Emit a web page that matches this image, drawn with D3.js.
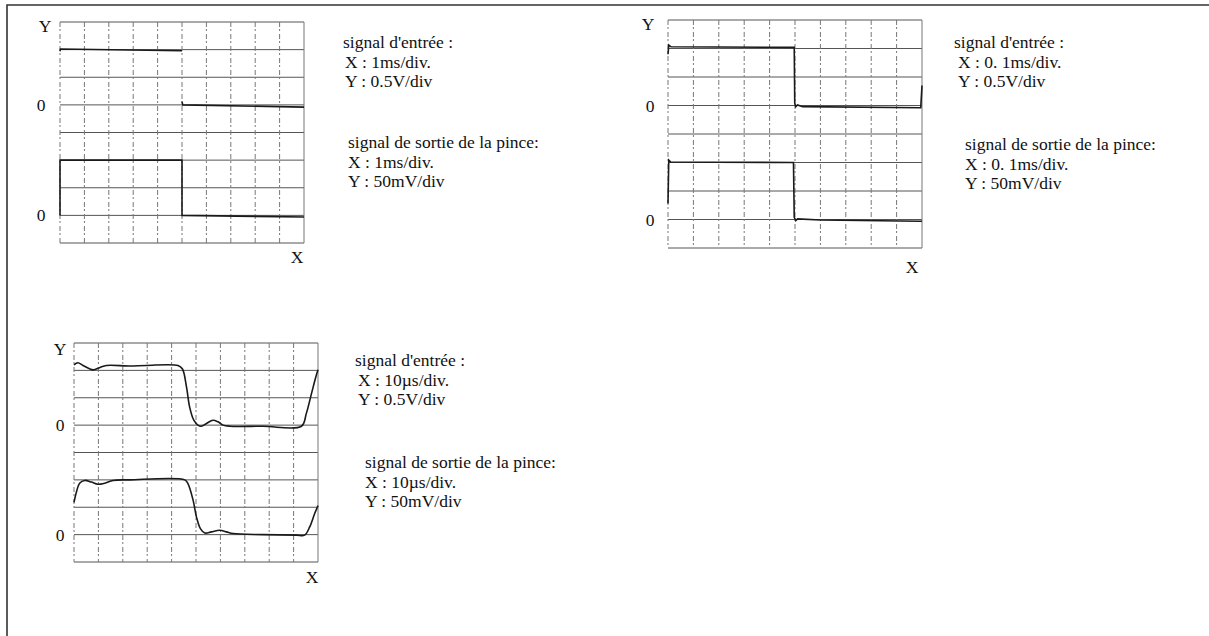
<!DOCTYPE html>
<html>
<head>
<meta charset="utf-8">
<script src="https://cdn.jsdelivr.net/npm/d3@7"></script>
<style>
  body { margin: 0; background: #fff; }
  svg { display: block; }
  text { font-family: "Liberation Serif", "Times New Roman", serif; fill: #111; }
</style>
</head>
<body>
<svg width="1209" height="636"></svg>
<script>
// each screen is 10 divisions wide and 8 high
// input channel in V (0.5 V/div), clamp output in mV (50 mV/div)
const timeDomains = [[0, 10], [0, 1], [0, 100]]; // ms, ms, µs
const voltsPerDiv = { input: 0.5, output: 50 };

// screen 1 : 1ms/div  (null = edge too fast to show on the trace)
const in1 = [[0, 0.97], [0.02, 1.01], [5, 0.98], [5, null], [5, 0.06], [5.03, 0], [10, -0.04]];
const out1 = [[0, 0], [0, 100], [5, 100], [5, 0], [10, -3]];

// screen 2 : 0.1ms/div
const in2 = [[0, 0.9], [0.003, 1.06], [0.012, 1.03], [0.497, 1.02], [0.499, 0.04],
  [0.503, -0.02], [0.51, 0.01], [0.53, -0.02], [0.995, -0.04], [1.0, 0.35]];
const out2 = [[0, 28], [0.003, 104], [0.01, 101], [0.494, 100], [0.497, 4],
  [0.503, -2], [0.51, 1], [0.6, -1], [0.995, -3], [1.0, -3]];

// screen 3 : 10µs/div
const in3 = [[0, 1.1], [1.6, 1.14], [3.7, 1.09], [7.8, 1.01], [10.5, 1.05], [13.3, 1.09],
  [22.8, 1.08], [29.7, 1.09], [42.6, 1.09], [44.4, 1.03], [46.1, 0.7], [47.4, 0.33],
  [49.1, 0.09], [50.8, 0], [52.2, -0.02], [54.3, 0.03], [57, 0.09], [59, 0.06],
  [61.1, 0], [63.8, -0.02], [77.5, -0.02], [93.2, -0.02], [95.2, 0.21], [97.3, 0.57],
  [99.1, 0.88], [100, 1.01]];
const out3 = [[0, 59], [1, 78], [2.3, 94], [4.4, 99], [7.1, 96], [9.8, 92], [12.6, 94],
  [16, 99], [22.8, 100], [45.4, 100], [46.7, 93], [48.8, 63], [50.2, 32], [51.8, 11],
  [53.6, 3], [56.3, 5], [59.7, 8], [62.5, 5], [65.2, 2], [77.5, 0], [91.1, -1],
  [94.5, -1], [96.6, 14], [98.6, 38], [100, 53]];

const inputNotes = [
  ["signal d'entrée :", "X : 1ms/div.", "Y : 0.5V/div"],
  ["signal d'entrée :", "X : 0. 1ms/div.", "Y : 0.5V/div"],
  ["signal d'entrée :", "X : 10µs/div.", "Y : 0.5V/div"]
];
const outputNotes = [
  ["signal de sortie de la pince:", "X : 1ms/div.", "Y : 50mV/div"],
  ["signal de sortie de la pince:", "X : 0. 1ms/div.", "Y : 50mV/div"],
  ["signal de sortie de la pince:", "X : 10µs/div.", "Y : 50mV/div"]
];

// layout of each screen on the page
const screens = [
  { box: [60, 22, 304, 243], yLab: [45, 32], xLab: [297, 263], zeroX: 41,
    note1: [343, 345, 48], note2: [348, 348, 148] },
  { box: [668, 20, 922, 248], yLab: [648, 30], xLab: [912, 273], zeroX: 650,
    note1: [954, 958, 48], note2: [965, 965, 150] },
  { box: [74, 343, 318, 562], yLab: [60, 355], xLab: [312, 583], zeroX: 60,
    note1: [355, 358, 366], note2: [365, 365, 468] }
];
const traces = [[in1, out1], [in2, out2], [in3, out3]];
const smooth = [false, false, true];

const svg = d3.select("svg");
svg.append("rect").attr("width", 1209).attr("height", 636).attr("fill", "#fff");

// scanned page frame
svg.append("path")
  .attr("d", "M7,636V5H1209")
  .attr("fill", "none").attr("stroke", "#333").attr("stroke-width", 1.6);

screens.forEach((s, i) => {
  const [x0, y0, x1, y1] = s.box;
  const g = svg.append("g");

  const x = d3.scaleLinear().domain(timeDomains[i]).range([x0, x1]);
  const div = d3.scaleLinear().domain([0, 8]).range([y1, y0]); // divisions from bottom

  // graticule
  g.selectAll(".h").data(d3.range(9)).join("line")
    .attr("x1", x0).attr("x2", x1)
    .attr("y1", d => div(d)).attr("y2", d => div(d))
    .attr("stroke", "#555").attr("stroke-width", 1);
  g.selectAll(".v").data(d3.range(11)).join("line")
    .attr("x1", d => x0 + (x1 - x0) * d / 10).attr("x2", d => x0 + (x1 - x0) * d / 10)
    .attr("y1", y0).attr("y2", y1)
    .attr("stroke", "#777").attr("stroke-width", 1)
    .attr("stroke-dasharray", d => d === 10 ? null : "5,2,2,3");

  // channel 1: zero at 5 div from bottom, channel 2: zero at 1 div
  const yIn = d3.scaleLinear().domain([0, voltsPerDiv.input]).range([div(5), div(6)]);
  const yOut = d3.scaleLinear().domain([0, voltsPerDiv.output]).range([div(1), div(2)]);

  const curve = smooth[i] ? d3.curveCatmullRom : d3.curveLinear;
  const lineIn = d3.line().defined(d => d[1] !== null)
    .x(d => x(d[0])).y(d => yIn(d[1])).curve(curve);
  const lineOut = d3.line().defined(d => d[1] !== null)
    .x(d => x(d[0])).y(d => yOut(d[1])).curve(curve);

  g.append("path").attr("d", lineIn(traces[i][0]))
    .attr("fill", "none").attr("stroke", "#1a1a1a").attr("stroke-width", 1.6);
  g.append("path").attr("d", lineOut(traces[i][1]))
    .attr("fill", "none").attr("stroke", "#1a1a1a").attr("stroke-width", 1.6);

  // axis letters
  g.append("text").attr("x", s.yLab[0]).attr("y", s.yLab[1])
    .attr("text-anchor", "middle").attr("font-size", 17.5).text("Y");
  g.append("text").attr("x", s.xLab[0]).attr("y", s.xLab[1])
    .attr("text-anchor", "middle").attr("font-size", 17.5).text("X");
  [yIn(0), yOut(0)].forEach(v => {
    g.append("text").attr("x", s.zeroX).attr("y", v + 6)
      .attr("text-anchor", "middle").attr("font-size", 17.5).text("0");
  });

  // settings notes
  [[inputNotes[i], s.note1], [outputNotes[i], s.note2]].forEach(([lines, pos]) => {
    g.selectAll(null).data(lines).join("text")
      .attr("x", (d, k) => k === 0 ? pos[0] : pos[1])
      .attr("y", (d, k) => pos[2] + k * 19.5)
      .attr("font-size", 17.5)
      .text(d => d);
  });
});
</script>
</body>
</html>
